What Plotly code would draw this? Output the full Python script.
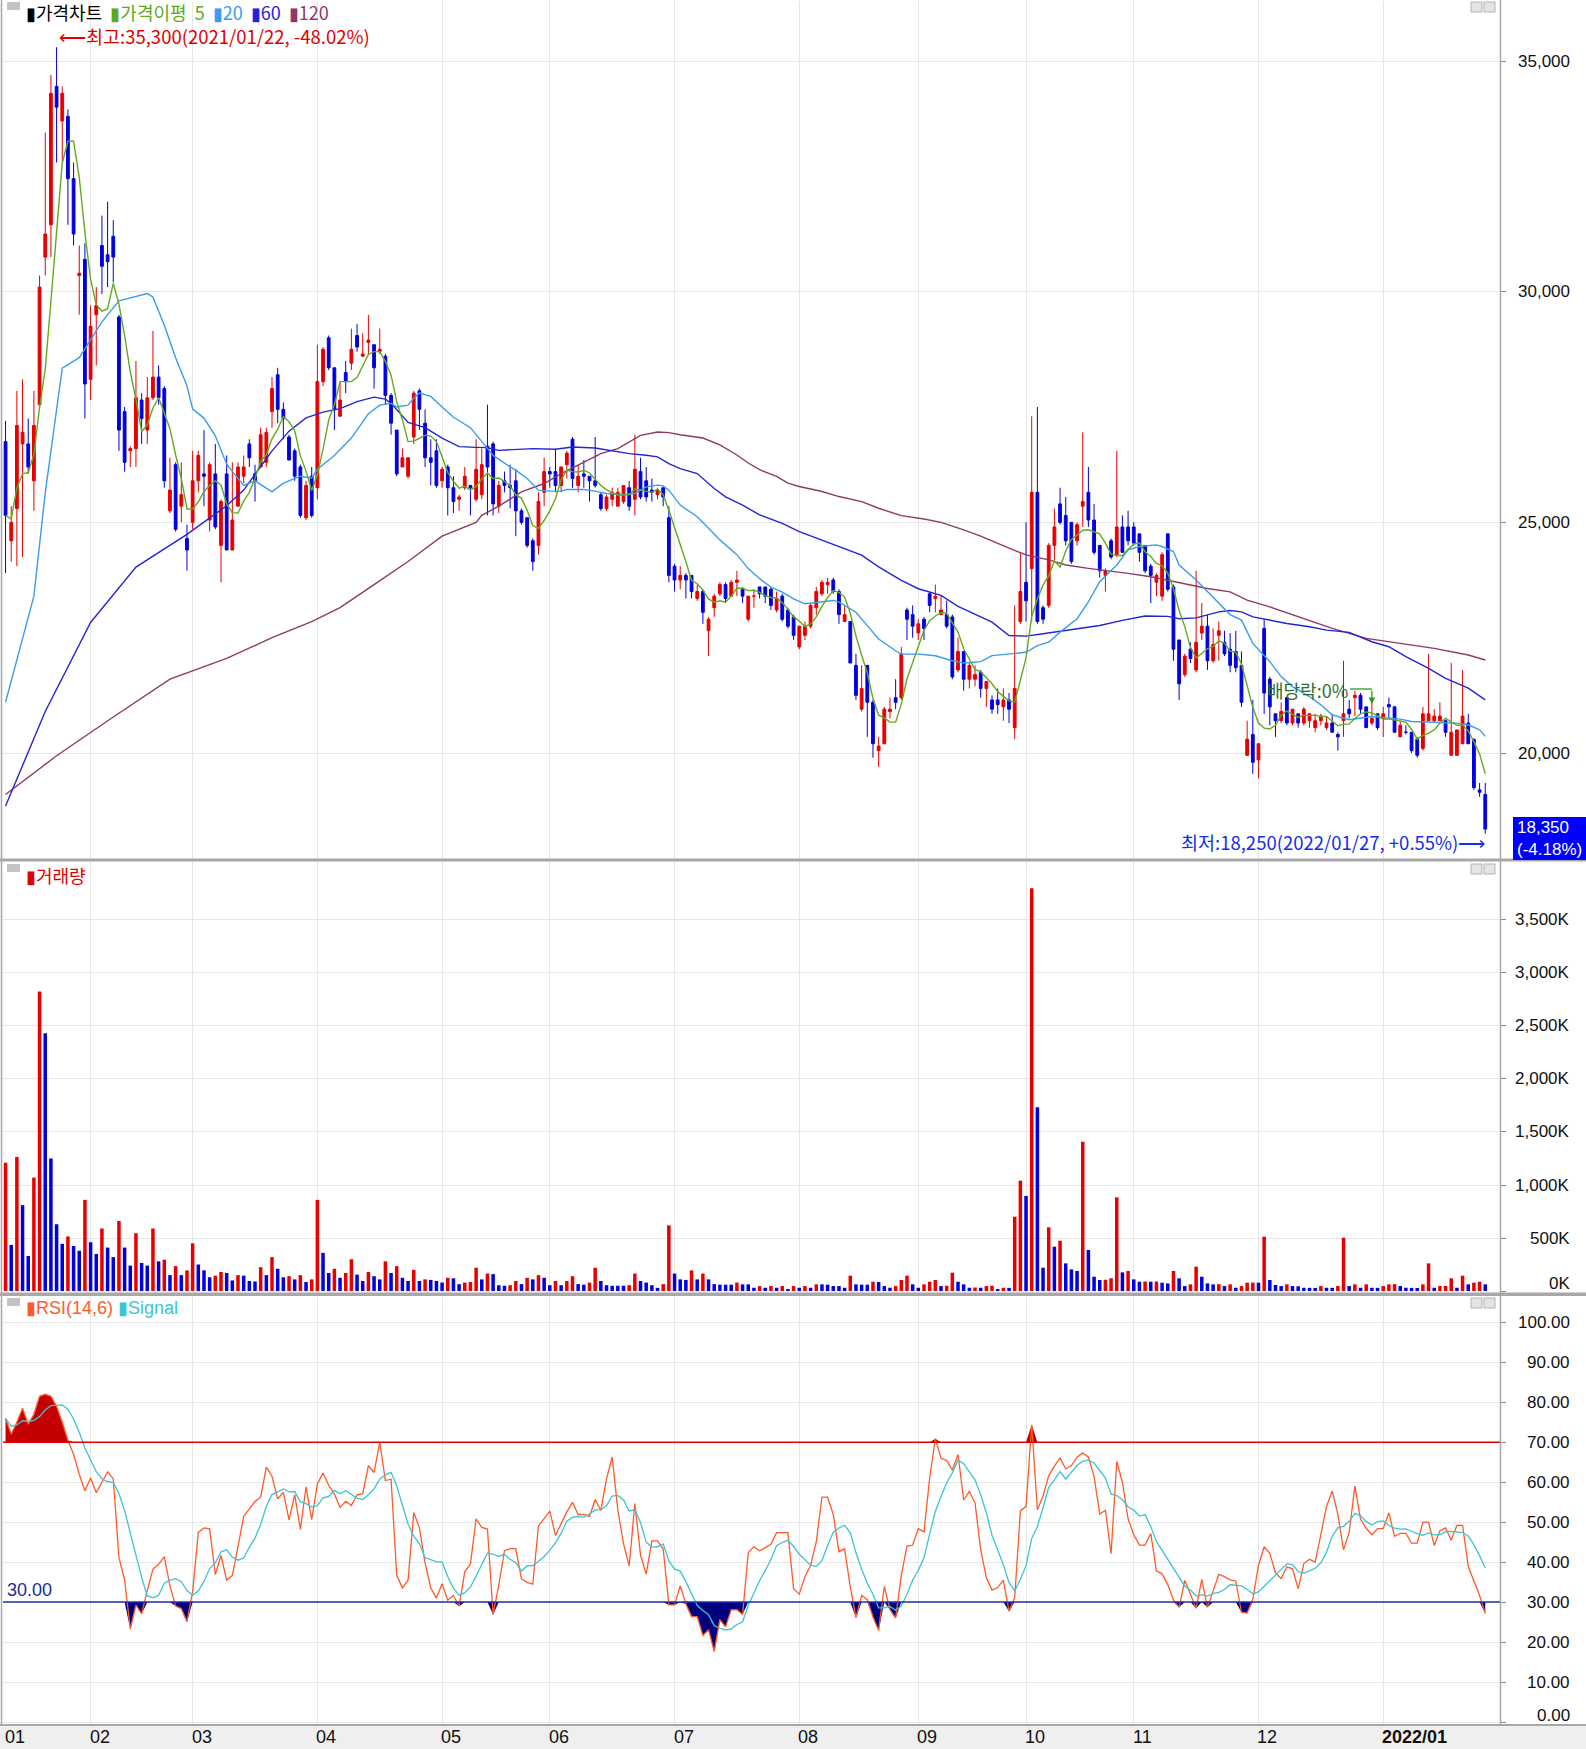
import numpy as np
import pandas as pd
import plotly.graph_objects as go

# ---------------- data ----------------
START = "2021-01-11"
END = "2022-01-27"
HOLIDAYS = ["2021-02-11", "2021-02-12", "2021-03-01", "2021-05-05", "2021-05-19",
            "2021-08-16", "2021-09-20", "2021-09-21", "2021-09-22", "2021-10-04",
            "2021-10-11", "2021-12-31"]

OPEN = [26750, 24600, 25300, 26700, 26700, 25900, 27550, 30750, 31450, 34450,
        33700, 33800, 32450, 30350, 30700, 28100, 29500, 31000, 30800, 31200,
        29450, 27400, 26550, 26600, 27650, 27000, 27700, 28150, 27900, 25250,
        26250, 25350, 24650, 25000, 25900, 26050, 25050, 26050, 24500, 26050,
        24400, 25350, 26000, 26700, 26050, 26200, 26300, 27400, 28200, 27450,
        26850, 26550, 26200, 25100, 26000, 25750, 28050, 29000, 28350, 27300,
        28250, 28450, 29050, 28600, 28900, 28850, 28700, 28600, 27750, 27000,
        26200, 26000, 26850, 27850, 27150, 26400, 26550, 25900, 26200, 25750,
        25500, 25750, 25800, 25500, 25600, 26650, 26700, 25350, 25900, 25800,
        25900, 25250, 25100, 24600, 24500, 25650, 26100, 26100, 25800, 26250,
        26800, 25800, 26050, 26000, 25900, 25600, 25300, 25500, 25350, 25450,
        25750, 25500, 26100, 25900, 25700, 25600, 25750, 25100, 24050, 23750,
        23850, 23850, 23350, 23500, 22650, 23150, 23450, 23650, 23400, 23700,
        23550, 22900, 23400, 23600, 23600, 23550, 23100, 23400, 23100, 22950,
        22300, 22550, 22750, 23150, 23450, 23650, 23750, 23500, 22850, 22850,
        21900, 20950, 21900, 21100, 20050, 20200, 20900, 21200, 21200, 23100,
        23000, 22600, 22900, 23450, 23350, 23000, 23000, 22950, 21800, 22200,
        21600, 21600, 21750, 21400, 21150, 21150, 21000, 21150, 20550, 22850,
        23700, 24000, 25650, 23150, 23200, 24500, 25400, 25150, 25000, 24600,
        25350, 25650, 25050, 24500, 23850, 24600, 24300, 24900, 24900, 24900,
        24750, 24500, 24050, 23700, 23400, 24750, 23600, 22450, 21700, 22250,
        21800, 22600, 22750, 22000, 22550, 22400, 22250, 22200, 21900, 19950,
        20400, 19850, 22700, 21600, 20850, 20700, 21200, 20650, 20850, 20650,
        20700, 20550, 20700, 20550, 20650, 20400, 20700, 20950, 21200, 21250,
        21000, 20650, 20850, 20750, 21050, 21000, 20350, 20450, 20450, 20300,
        20100, 20700, 20700, 20700, 20700, 19950, 19950, 20200, 20650, 20300,
        19200, 19100]

HIGH = [27200, 25350, 27850, 28100, 27250, 27850, 30350, 33450, 34700, 35300,
        34450, 33950, 32800, 31000, 31050, 29700, 30100, 31650, 31950, 31550,
        29500, 27500, 26650, 28500, 27800, 28150, 29150, 28400, 27950, 26400,
        26300, 26300, 24950, 26550, 26550, 27000, 26300, 26700, 25500, 26450,
        26300, 26300, 26450, 26800, 26250, 27050, 27050, 28150, 28350, 27600,
        26900, 26600, 26250, 25900, 26200, 28850, 28800, 29050, 28350, 28050,
        28500, 29200, 29300, 29100, 29500, 28850, 29200, 28650, 27800, 27000,
        26600, 26400, 27850, 27900, 27450, 26800, 26800, 26200, 26250, 26000,
        25600, 26200, 25800, 26800, 26600, 27550, 26750, 25900, 26100, 26250,
        26150, 25300, 25100, 24650, 25650, 26400, 26200, 26600, 26200, 26550,
        26850, 26250, 26350, 26000, 26850, 25650, 25600, 25750, 25750, 25800,
        25900, 26900, 26400, 26200, 25950, 25750, 25750, 25350, 24100, 24050,
        23900, 23850, 23650, 23550, 22950, 23450, 23700, 23700, 23750, 23950,
        23600, 23400, 23550, 23600, 23600, 23600, 23500, 23450, 23150, 23000,
        22750, 22850, 23250, 23600, 23750, 23800, 23800, 23550, 23200, 22850,
        22150, 21900, 21900, 21150, 20350, 21000, 21200, 21600, 22300, 23150,
        23200, 22900, 22950, 23500, 23650, 23400, 23300, 23000, 22500, 22200,
        21950, 21900, 21800, 21550, 21250, 21400, 21400, 21300, 23200, 24350,
        25000, 27300, 27500, 23200, 24550, 25300, 25750, 25550, 25000, 25000,
        26950, 26200, 25400, 24500, 24000, 24650, 26550, 25150, 25250, 25000,
        24750, 24500, 24100, 23900, 24350, 24750, 23650, 22450, 22150, 22400,
        23950, 23250, 23000, 22700, 22850, 22650, 22600, 22650, 22200, 20700,
        21150, 20200, 22900, 21650, 20850, 21100, 21200, 20950, 20850, 21000,
        20850, 20850, 20850, 20800, 20850, 20450, 22000, 21150, 21350, 21300,
        21000, 21200, 20850, 21000, 21200, 21000, 20700, 20600, 20450, 20350,
        21000, 22150, 20950, 21100, 20700, 21950, 20500, 21800, 20850, 20300,
        19350, 19350]

LOW = [23900, 24150, 24050, 24250, 26050, 25250, 27500, 30350, 30750, 32800,
       32800, 31450, 31000, 29500, 27250, 27650, 28400, 29950, 30100, 30200,
       26550, 26100, 26200, 26200, 26700, 26700, 27650, 27550, 25750, 25200,
       24800, 25000, 23950, 24850, 25650, 25350, 24800, 24850, 23700, 24400,
       24400, 25350, 25850, 26200, 25450, 26200, 26200, 27050, 27150, 26800,
       26350, 25900, 25100, 25050, 25100, 25500, 27950, 28300, 27000, 27300,
       27800, 28300, 28700, 28600, 28650, 27900, 28650, 27550, 26900, 26000,
       26200, 25950, 26700, 27000, 26200, 25800, 25750, 25750, 25150, 25200,
       25250, 25700, 25150, 25450, 25500, 25150, 25150, 25200, 25650, 25300,
       24700, 24950, 24450, 23950, 24300, 25350, 25750, 25650, 25650, 25950,
       25750, 25650, 25750, 25450, 25750, 25250, 25250, 25350, 25350, 25400,
       25250, 25150, 25500, 25450, 25450, 25500, 25350, 23700, 23500, 23550,
       23350, 23350, 23300, 22800, 22100, 22950, 23400, 23250, 23400, 23400,
       23250, 22850, 23150, 23350, 23250, 23100, 23050, 22850, 22700, 22450,
       22250, 22450, 22700, 23000, 23400, 23450, 23450, 22800, 22850, 21950,
       21150, 20900, 20350, 19900, 19700, 20200, 20750, 20950, 21150, 22450,
       22500, 22450, 22450, 23050, 23050, 23000, 22700, 21600, 21750, 21350,
       21400, 21450, 21200, 21000, 20850, 20850, 20700, 20650, 20300, 22800,
       22850, 22850, 22800, 22800, 23150, 24150, 24950, 24500, 24100, 24500,
       24900, 24900, 24300, 23800, 23500, 24200, 24250, 24350, 24500, 24500,
       24150, 23900, 23250, 23400, 23300, 23500, 22000, 21150, 21650, 21950,
       21750, 22450, 21800, 21950, 22000, 22100, 21750, 21750, 21000, 19950,
       19550, 19450, 20850, 20600, 20350, 20650, 20600, 20600, 20550, 20600,
       20550, 20450, 20600, 20500, 20450, 20050, 20350, 20750, 20800, 20850,
       20550, 20600, 20500, 20350, 20750, 20450, 20350, 20400, 20000, 19900,
       20050, 20700, 20650, 20700, 20350, 19950, 19950, 20200, 20200, 19200,
       19050, 18250]

CLOSE = [25150, 25000, 27100, 26950, 26200, 27100, 30100, 31250, 34300, 34000,
         34300, 32450, 31250, 30400, 28000, 29250, 29700, 30550, 30650, 30750,
         27000, 26300, 26600, 27700, 27250, 27700, 28150, 27700, 25900, 25700,
         24850, 25600, 24400, 25900, 26450, 26000, 26250, 24900, 25450, 24400,
         25050, 26200, 26200, 26400, 25900, 26900, 26950, 27900, 27450, 27250,
         26350, 26000, 25150, 25800, 25150, 28050, 28750, 28350, 27450, 27650,
         28050, 28750, 28800, 28650, 28950, 28350, 28750, 27750, 27150, 26050,
         26400, 26400, 27800, 27450, 26400, 26300, 25800, 26150, 25750, 25450,
         25550, 26000, 25750, 26150, 26250, 26200, 25400, 25800, 25800, 25750,
         25250, 25000, 24500, 24150, 25450, 26100, 26050, 25800, 26200, 26500,
         25950, 26000, 26000, 25900, 25800, 25300, 25550, 25650, 25650, 25800,
         25350, 26150, 25550, 25550, 25650, 25700, 25550, 23850, 23750, 23850,
         23750, 23500, 23500, 23050, 22900, 23400, 23650, 23350, 23700, 23750,
         23400, 23400, 23400, 23450, 23400, 23200, 23350, 22900, 22750, 22550,
         22750, 22750, 23200, 23500, 23700, 23700, 23500, 23000, 23000, 21950,
         21250, 21400, 21100, 20200, 20150, 20950, 20950, 21100, 22150, 22900,
         22750, 22800, 22700, 23200, 23400, 23100, 22750, 21650, 22200, 21600,
         21900, 21700, 21400, 21550, 20950, 21050, 21150, 20950, 21400, 23500,
         23300, 25650, 22850, 22900, 24500, 24900, 25000, 24600, 24150, 24950,
         25450, 25050, 24350, 23950, 23950, 24250, 24900, 24350, 24600, 24550,
         24350, 23950, 23850, 23850, 24300, 23550, 22250, 21500, 22100, 22050,
         22400, 22750, 22000, 22350, 22650, 22150, 21900, 21850, 21100, 20300,
         19800, 20200, 21300, 21000, 20700, 20900, 20650, 20950, 20650, 20950,
         20850, 20700, 20800, 20650, 20450, 20350, 20850, 20850, 21250, 20950,
         20550, 20750, 20550, 20850, 21000, 20450, 20600, 20450, 20050, 19950,
         20850, 20850, 20800, 20800, 20450, 20450, 20500, 20800, 20200, 19250,
         19150, 18350]

VOLUME_K = [1210, 435, 1265, 810, 330, 1070, 2825, 2430, 1250, 630,
            445, 515, 425, 380, 860, 460, 350, 590, 410, 320,
            660, 410, 240, 545, 265, 240, 590, 280, 295, 150,
            235, 150, 195, 450, 250, 195, 130, 145, 180, 170,
            100, 150, 145, 95, 90, 225, 150, 320, 210, 130,
            140, 110, 150, 85, 110, 860, 360, 170, 210, 125,
            170, 300, 155, 95, 180, 140, 110, 280, 170, 235,
            125, 95, 200, 95, 110, 105, 95, 80, 125, 120,
            65, 80, 85, 220, 110, 165, 160, 55, 50, 55,
            95, 65, 125, 110, 150, 125, 55, 95, 55, 95,
            140, 65, 60, 80, 220, 95, 55, 50, 50, 50,
            55, 165, 95, 80, 55, 30, 65, 620, 165, 110,
            105, 195, 110, 165, 110, 65, 60, 60, 60, 80,
            63, 63, 31, 47, 31, 47, 31, 47, 19, 47,
            31, 47, 31, 63, 63, 60, 47, 47, 31, 145,
            63, 60, 60, 88, 85, 47, 31, 47, 104, 145,
            63, 31, 63, 88, 104, 47, 50, 173, 88, 63,
            31, 33, 31, 47, 50, 19, 31, 30, 701, 1041,
            896, 3799, 1733, 220, 601, 418, 475, 261, 204, 189,
            1409, 387, 135, 104, 106, 120, 884, 176, 189, 110,
            88, 90, 88, 90, 79, 72, 189, 120, 47, 63,
            230, 135, 72, 63, 65, 47, 63, 31, 47, 79,
            80, 79, 513, 104, 57, 47, 63, 47, 45, 31,
            30, 29, 47, 31, 30, 47, 503, 47, 63, 31,
            63, 31, 30, 47, 63, 65, 47, 31, 30, 29,
            63, 261, 31, 47, 48, 120, 31, 145, 63, 79,
            88, 63]

# moving-average readings (trading-day number, price)
MA20_DAY = [0, 5, 7, 10, 13, 15, 17, 20, 25, 26, 28, 30, 32, 33, 35, 37, 39, 40, 42, 44,
            47, 49, 52, 54, 55, 58, 61, 64, 66, 68, 69, 71, 72, 73, 75, 77, 79, 82, 84, 86,
            89, 90, 92, 94, 96, 98, 99, 102, 104, 106, 109, 111, 113, 115, 116, 117, 119, 122, 124, 126,
            129, 131, 133, 135, 137, 139, 141, 144, 146, 147, 150, 152, 154, 157, 158, 161, 164, 167, 169, 172,
            174, 180, 182, 184, 186, 189, 191, 193, 196, 198, 200, 203, 204, 206, 207, 210, 212, 214, 216, 218,
            220, 223, 225, 227, 230, 232, 234, 237, 239, 241, 244, 246, 248, 251, 253, 256, 258, 260, 261]
MA20_VAL = [21100, 23400, 25640, 28340, 28570, 28960, 29345, 29800, 29960, 29885, 29270, 28570, 27960, 27455, 27260, 26876, 26260, 26105, 25800, 25900,
            25660, 25850, 26000, 25962, 26150, 26450, 26827, 27354, 27540, 27580, 27500, 27540, 27690, 27804, 27730, 27500, 27277, 27052, 26750, 26450,
            26202, 26130, 25950, 25698, 25676, 25676, 25712, 25712, 25676, 25626, 25604, 25626, 25770, 25806, 25790, 25698, 25374, 25122, 24870, 24620,
            24300, 23997, 23779, 23597, 23488, 23343, 23234, 23270, 23307, 23270, 23052, 22762, 22471, 22217, 22144, 22144, 22108, 21999, 21950, 21980,
            22110, 22183, 22329, 22401, 22620, 22911, 23275, 23712, 24076, 24403, 24476, 24512, 24476, 24367, 24076, 23748, 23493, 23260, 23000, 22880,
            22376, 21980, 21656, 21440, 21224, 21044, 20828, 20720, 20756, 20792, 20756, 20734, 20684, 20662, 20662, 20648, 20612, 20504, 20360]

MA60_DAY = [0, 7, 15, 23, 32, 39, 42, 45, 47, 50, 53, 56, 59, 62, 65, 67, 68, 71, 74, 77,
            80, 83, 85, 87, 93, 97, 100, 104, 106, 110, 113, 115, 117, 119, 122, 125, 127, 130, 133, 137,
            140, 144, 147, 151, 154, 158, 161, 165, 168, 172, 174, 177, 180, 183, 186, 190, 193, 197, 199, 201,
            205, 207, 210, 212, 214, 216, 218, 220, 223, 226, 230, 233, 237, 239, 241, 244, 247, 251, 254, 258, 261]
MA60_VAL = [18850, 20900, 22830, 24030, 24740, 25360, 25700, 26200, 26550, 26977, 27263, 27390, 27466, 27616, 27714, 27670, 27580, 27165, 27052, 26827,
            26640, 26625, 26620, 26560, 26598, 26584, 26634, 26612, 26576, 26490, 26454, 26418, 26274, 26166, 26058, 25734, 25554, 25374, 25160, 24978,
            24797, 24615, 24470, 24288, 24033, 23743, 23561, 23416, 23180, 22950, 22838, 22547, 22533, 22584, 22635, 22707, 22765, 22875, 22926, 22969,
            22962, 22911, 22930, 22990, 23060, 23090, 23060, 22952, 22880, 22808, 22736, 22664, 22614, 22520, 22412, 22304, 22088, 21836, 21620, 21404, 21152]

MA120_DAY = [0, 9, 19, 29, 39, 47, 54, 59, 65, 71, 77, 83, 84, 87, 91, 95, 98, 102, 105, 108,
             110, 112, 115, 117, 119, 123, 126, 129, 131, 133, 136, 138, 140, 144, 147, 151, 154, 158, 162, 165,
             169, 172, 177, 180, 184, 187, 191, 195, 198, 202, 205, 209, 212, 216, 219, 223, 229, 234, 240, 246,
             252, 258, 261]
MA120_VAL = [19100, 19940, 20780, 21600, 22050, 22500, 22850, 23150, 23650, 24150, 24700, 25000, 25150, 25350, 25662, 25842, 26058, 26310, 26490, 26598,
             26742, 26886, 26958, 26944, 26900, 26828, 26680, 26460, 26286, 26141, 25995, 25850, 25777, 25668, 25559, 25450, 25305, 25145, 25073, 25000,
             24835, 24700, 24440, 24294, 24185, 24076, 24003, 23944, 23893, 23821, 23748, 23639, 23566, 23493, 23312, 23168, 22916, 22700, 22484, 22376,
             22268, 22124, 22016]

RSI_HEAD = [76, 72, 75, 78.5, 74.5, 77, 81.5, 82, 81.5, 79, 75, 70.5, 67, 62]
RSI_PERIOD = 14
SIGNAL_PERIOD = 6
RSI_UPPER = 70
RSI_LOWER = 30

PRICE_TICKS = [20000, 25000, 30000, 35000]
VOL_TICKS = [0, 500, 1000, 1500, 2000, 2500, 3000, 3500]
RSI_TICKS = [0, 10, 20, 30, 40, 50, 60, 70, 80, 90, 100]

EX_DIV_DATE = "2021-12-29"
EX_DIV_TEXT = "배당락:0%"

# ---------------- derived ----------------
dates = pd.bdate_range(START, END, freq="C", holidays=HOLIDAYS)
n = min(len(dates), len(CLOSE))
dates = dates[:n]
idx = np.arange(n)
close = pd.Series(CLOSE[:n], dtype=float)

ma5 = close.rolling(5, min_periods=1).mean()

diff = close.diff()
up = diff.clip(lower=0)
dn = (-diff).clip(lower=0)
su = up.rolling(RSI_PERIOD).sum()
sd = dn.rolling(RSI_PERIOD).sum()
rsi = 100 * su / (su + sd)
head = min(len(RSI_HEAD), n)
rsi.iloc[:head] = RSI_HEAD[:head]
signal = rsi.rolling(SIGNAL_PERIOD, min_periods=1).mean()

months = dates.to_period("M")
month_starts = [0] + [i for i in range(1, n) if months[i] != months[i - 1]]

W, H = 1586, 1749


def px(x):
    return x / W


def py(y):
    return 1 - y / H


RED = "#E80000"
BLUE = "#0000E0"
GRID = "#E6E6E6"
SEP = "#A8A8A8"
NUMFONT = "Liberation Sans Narrow, Arial Narrow, Liberation Sans, sans-serif"
KRFONT = "Noto Sans CJK KR, sans-serif"

vol = VOLUME_K[:n]
vcol = [RED if (i == 0 or vol[i] > vol[i - 1]) else BLUE for i in range(n)]

fig = go.Figure()

# price panel
fig.add_trace(go.Candlestick(
    x=idx, open=OPEN[:n], high=HIGH[:n], low=LOW[:n], close=CLOSE[:n],
    increasing=dict(line=dict(color=RED, width=1), fillcolor=RED),
    decreasing=dict(line=dict(color=BLUE, width=1), fillcolor=BLUE),
    whiskerwidth=0, hoverinfo="skip", xaxis="x", yaxis="y"))
fig.add_trace(go.Scatter(x=MA120_DAY, y=MA120_VAL, mode="lines",
                         line=dict(color="#8E3A66", width=1.4), xaxis="x", yaxis="y", hoverinfo="skip"))
fig.add_trace(go.Scatter(x=MA60_DAY, y=MA60_VAL, mode="lines",
                         line=dict(color="#2424D6", width=1.4), xaxis="x", yaxis="y", hoverinfo="skip"))
fig.add_trace(go.Scatter(x=MA20_DAY, y=MA20_VAL, mode="lines",
                         line=dict(color="#3A9CEE", width=1.4), xaxis="x", yaxis="y", hoverinfo="skip"))
fig.add_trace(go.Scatter(x=idx, y=ma5, mode="lines",
                         line=dict(color="#62AA1E", width=1.4), xaxis="x", yaxis="y", hoverinfo="skip"))

# volume panel
fig.add_trace(go.Bar(x=idx, y=vol, marker=dict(color=vcol, line=dict(width=0)), width=0.62,
                     xaxis="x", yaxis="y2", hoverinfo="skip"))

# RSI panel
fig.add_trace(go.Scatter(x=idx, y=[RSI_UPPER] * n, mode="lines", line=dict(width=0),
                         xaxis="x", yaxis="y3", hoverinfo="skip"))
fig.add_trace(go.Scatter(x=idx, y=np.maximum(rsi, RSI_UPPER), mode="lines", line=dict(width=0),
                         fill="tonexty", fillcolor="#C40000", xaxis="x", yaxis="y3", hoverinfo="skip"))
fig.add_trace(go.Scatter(x=idx, y=[RSI_LOWER] * n, mode="lines", line=dict(width=0),
                         xaxis="x", yaxis="y3", hoverinfo="skip"))
fig.add_trace(go.Scatter(x=idx, y=np.minimum(rsi, RSI_LOWER), mode="lines", line=dict(width=0),
                         fill="tonexty", fillcolor="#00007E", xaxis="x", yaxis="y3", hoverinfo="skip"))
fig.add_trace(go.Scatter(x=idx, y=rsi, mode="lines", line=dict(color="#FF5A28", width=1.3),
                         xaxis="x", yaxis="y3", hoverinfo="skip"))
fig.add_trace(go.Scatter(x=idx, y=signal, mode="lines", line=dict(color="#3CC4D4", width=1.3),
                         xaxis="x", yaxis="y3", hoverinfo="skip"))

shapes = []
# bottom band and separators
shapes.append(dict(type="rect", xref="paper", yref="paper", x0=0, x1=1, y0=0, y1=py(1725),
                   fillcolor="#EFEFEF", line=dict(width=0)))
for (a, b) in [(858.5, 861.5), (1292.5, 1296), (1724, 1726)]:
    shapes.append(dict(type="rect", xref="paper", yref="paper", x0=0, x1=1, y0=py(b), y1=py(a),
                       fillcolor=SEP, line=dict(width=0)))
shapes.append(dict(type="line", xref="paper", yref="paper", x0=px(1500.5), x1=px(1500.5), y0=py(1725), y1=1,
                   line=dict(color=SEP, width=1.5)))
shapes.append(dict(type="line", xref="paper", yref="paper", x0=px(1.5), x1=px(1.5), y0=py(1725), y1=1,
                   line=dict(color=SEP, width=1.5)))
# RSI reference lines
shapes.append(dict(type="line", xref="x domain", yref="y3", x0=0, x1=1, y0=RSI_UPPER, y1=RSI_UPPER,
                   line=dict(color="#E00000", width=1.5)))
shapes.append(dict(type="line", xref="x domain", yref="y3", x0=0, x1=1, y0=RSI_LOWER, y1=RSI_LOWER,
                   line=dict(color="#2030A8", width=1.5)))
# panel icons
for top in [2, 864, 1298]:
    shapes.append(dict(type="rect", xref="paper", yref="paper", x0=px(7), x1=px(20), y0=py(top + 8), y1=py(top),
                       fillcolor="#C4C4C4", line=dict(width=0)))
    for x0 in [1471, 1484]:
        shapes.append(dict(type="rect", xref="paper", yref="paper", x0=px(x0), x1=px(x0 + 11),
                           y0=py(top + 10), y1=py(top), fillcolor="#E4E4E4", line=dict(color="#B4B4B4", width=1)))
# current price box
shapes.append(dict(type="rect", xref="paper", yref="paper", x0=px(1513), x1=px(1586), y0=py(860), y1=py(817),
                   fillcolor="#0000FF", line=dict(width=0)))
# ex-dividend marker
ex_idx = int(np.searchsorted(dates.values, np.datetime64(EX_DIV_DATE)))
shapes.append(dict(type="line", xref="x", yref="paper", xsizemode="pixel", xanchor=ex_idx, x0=-22, x1=0,
                   y0=py(689), y1=py(689), line=dict(color="#22A022", width=1.3)))

ann = []
# y tick labels (right aligned)
for v in PRICE_TICKS:
    ann.append(dict(xref="paper", yref="y", x=px(1572), y=v, text=f"{v:,}", xanchor="right", yanchor="middle",
                    showarrow=False, font=dict(family=NUMFONT, size=17, color="#111")))
for v in VOL_TICKS:
    ann.append(dict(xref="paper", yref="y2", x=px(1572), y=v, text=f"{v:,}K", xanchor="right", yanchor="middle",
                    yshift=8 if v == 0 else 0, showarrow=False, font=dict(family=NUMFONT, size=17, color="#111")))
for v in RSI_TICKS:
    ann.append(dict(xref="paper", yref="y3", x=px(1572), y=v, text=f"{v:.2f}", xanchor="right", yanchor="middle",
                    yshift=7 if v == 0 else 0, showarrow=False, font=dict(family=NUMFONT, size=17, color="#111")))
# x labels
for k, s in enumerate(month_starts):
    d = dates[s]
    if d.month == 1 and k > 0:
        lab = f"<b>{d.year}/{d.month:02d}</b>"
    else:
        lab = f"{d.month:02d}"
    ann.append(dict(xref="x", yref="paper", x=s, y=py(1737), text=lab, xanchor="left", yanchor="middle",
                    xshift=-2, showarrow=False, borderpad=0, font=dict(family=NUMFONT, size=18, color="#111")))

# legends
SP = "&nbsp;&nbsp;"
ann.append(dict(xref="paper", yref="paper", x=px(24), y=py(12), xanchor="left", yanchor="middle", showarrow=False,
                text=("<span style='color:#000'>▮가격차트</span>" + SP +
                      "<span style='color:#5EA81C'>▮가격이평&nbsp;&nbsp;5</span>" + SP +
                      "<span style='color:#3A9CEE'>▮20</span>" + SP +
                      "<span style='color:#2424D6'>▮60</span>" + SP +
                      "<span style='color:#8E3A66'>▮120</span>"),
                font=dict(family=KRFONT, size=18, color="#000")))
ann.append(dict(xref="paper", yref="paper", x=px(24), y=py(875), xanchor="left", yanchor="middle", showarrow=False,
                text="▮거래량", font=dict(family=KRFONT, size=18, color="#E00000")))
ann.append(dict(xref="paper", yref="paper", x=px(24), y=py(1308), xanchor="left", yanchor="middle", showarrow=False,
                text=("<span style='color:#FF5A28'>▮RSI(14,6)</span>&nbsp;"
                      "<span style='color:#3CC4D4'>▮Signal</span>"),
                font=dict(family=NUMFONT, size=18)))
ann.append(dict(xref="paper", yref="y3", x=px(5), y=RSI_LOWER, xanchor="left", yanchor="bottom", showarrow=False,
                text=f"{RSI_LOWER:.2f}", font=dict(family=NUMFONT, size=18, color="#1B2A9C")))

# high / low annotations
hi_i = int(np.argmax(HIGH[:n]))
lo_i = int(np.argmin(LOW[:n]))
last = CLOSE[n - 1]
prev = CLOSE[n - 2]
hi_txt = f"⟵최고:{HIGH[hi_i]:,}({dates[hi_i]:%Y/%m/%d}, {(last - HIGH[hi_i]) / HIGH[hi_i] * 100:+.2f}%)"
lo_txt = f"최저:{LOW[lo_i]:,}({dates[lo_i]:%Y/%m/%d}, {(last - LOW[lo_i]) / LOW[lo_i] * 100:+.2f}%)⟶"
ann.append(dict(xref="x", yref="paper", x=hi_i, y=py(36), xanchor="left", yanchor="middle", xshift=0,
                showarrow=False, text=hi_txt, font=dict(family=KRFONT, size=18.5, color="#E00000")))
ann.append(dict(xref="x", yref="paper", x=lo_i, y=py(842), xanchor="right", yanchor="middle", xshift=2,
                showarrow=False, text=lo_txt, font=dict(family=KRFONT, size=18.5, color="#1030F0")))
ann.append(dict(xref="paper", yref="paper", x=px(1515), y=py(838.5), xanchor="left", yanchor="middle",
                showarrow=False, align="left",
                text=f"{last:,}<br>({(last - prev) / prev * 100:+.2f}%)",
                font=dict(family=NUMFONT, size=17, color="#FFFFFF")))
# ex-dividend
ann.append(dict(xref="x", yref="paper", x=ex_idx, y=py(690), xanchor="right", yanchor="middle", xshift=-22,
                showarrow=False, text=EX_DIV_TEXT, font=dict(family=KRFONT, size=18, color="#2F6F2F")))
ann.append(dict(xref="x", yref="paper", x=ex_idx, y=py(704), ax=0, ay=-15, axref="pixel", ayref="pixel",
                showarrow=True, arrowhead=2, arrowsize=1, arrowwidth=1.3, arrowcolor="#22A022", text=""))

axis_common = dict(showgrid=True, gridcolor=GRID, gridwidth=1, zeroline=False, showticklabels=False,
                   ticks="outside", ticklen=5, tickcolor="#8A8A8A", side="right", anchor="x", fixedrange=True)

fig.update_layout(
    width=W, height=H, margin=dict(l=0, r=0, t=0, b=0),
    paper_bgcolor="white", plot_bgcolor="white", showlegend=False,
    xaxis=dict(domain=[px(3), px(1500)], range=[-0.45, 263.6], tickvals=month_starts[1:],
               showticklabels=False, ticks="", showgrid=True, gridcolor=GRID, zeroline=False,
               anchor="y3", rangeslider=dict(visible=False), fixedrange=True),
    yaxis=dict(domain=[py(858), py(1)], range=[17724, 36301], tickvals=PRICE_TICKS, **axis_common),
    yaxis2=dict(domain=[py(1292), py(862)], range=[-9, 4046], tickvals=VOL_TICKS, **axis_common),
    yaxis3=dict(domain=[py(1724), py(1296)], range=[-0.5, 106.6], tickvals=RSI_TICKS, **axis_common),
    shapes=shapes, annotations=ann, bargap=0.35,
)

fig.write_html("out.html",
               config={"displayModeBar": False, "staticPlot": True},
               post_script="document.body.style.margin='0';document.body.style.padding='0';"
                           "document.body.style.overflow='hidden';")
